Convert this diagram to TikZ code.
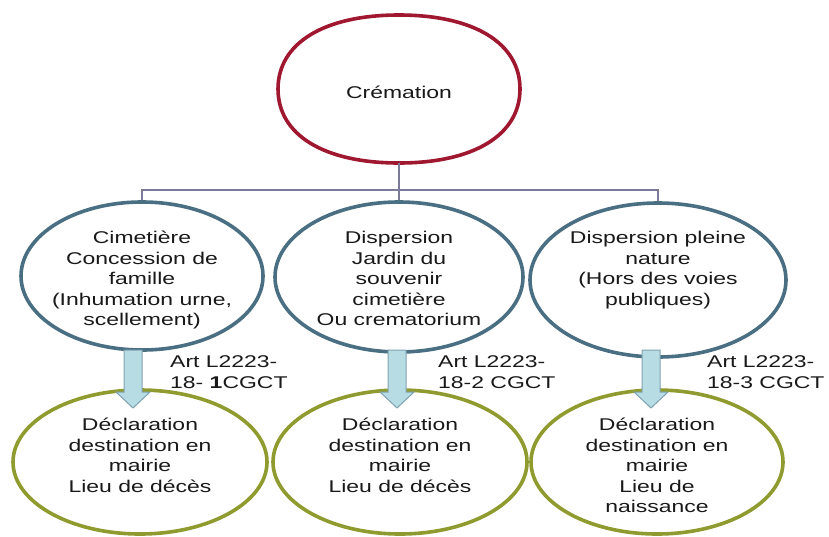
\documentclass[tikz,border=0pt]{standalone}
\usepackage{fontspec}
\setmainfont{Liberation Sans}[FakeStretch=1.35]
\usetikzlibrary{shapes.geometric}
\definecolor{cred}{HTML}{A01830}
\definecolor{cblue}{HTML}{4B6F82}
\definecolor{colive}{HTML}{8F9B2F}
\definecolor{cline}{HTML}{7B7B99}
\definecolor{afill}{HTML}{B8DCE4}
\definecolor{aline}{HTML}{7FA2B0}
\tikzset{
  ell/.style={ellipse, line width=3.6pt, inner sep=0pt, fill=white},
  txt/.style={font=\fontsize{17}{20.5}\selectfont, align=center, inner sep=0pt, text=black!90},
  arttxt/.style={font=\fontsize{17}{20.5}\selectfont, align=left, inner sep=0pt, anchor=north west, text=black!90},
  conn/.style={draw=cline, line width=1.3pt},
  blockarrow/.style={fill=afill, draw=aline, line width=1pt, line join=miter}
}
\begin{document}
\begin{tikzpicture}[x=1pt,y=-1pt]
\useasboundingbox (0,0) rectangle (829,536);
% top (slightly squarish ellipse outline)
\node[ellipse, inner sep=0pt, minimum width=242pt, minimum height=148pt] (top) at (399,89) {};
\draw[line width=3.6pt, draw=cred, fill=white]
  (278,89) .. controls (278,43.1) and (324,15) .. (399,15)
  .. controls (474,15) and (520,43.1) .. (520,89)
  .. controls (520,134.9) and (474,163) .. (399,163)
  .. controls (324,163) and (278,134.9) .. (278,89) -- cycle;
\node[txt, anchor=base] (ttop) at (399,98) {Crémation};
% middle
\node[ell, draw=cblue, minimum width=242pt, minimum height=148pt] (m1) at (142,276) {};
\node[ell, draw=cblue, minimum width=248pt, minimum height=150pt] (m2) at (399,277) {};
\node[ell, draw=cblue, minimum width=256pt, minimum height=154pt] (m3) at (658,280) {};
\node[txt, anchor=north] (tm1) at (142,231) {Cimetière\\Concession de\\famille\\(Inhumation urne,\\scellement)};
\node[txt, anchor=north] (tm2) at (399,231) {Dispersion\\Jardin du\\souvenir\\cimetière\\Ou crematorium};
\node[txt, anchor=north] (tm3) at (658,231) {Dispersion pleine\\nature\\(Hors des voies\\publiques)};
% bottom
\node[ell, draw=colive, minimum width=254pt, minimum height=144pt] (b1) at (140,462) {};
\node[ell, draw=colive, minimum width=254pt, minimum height=144pt] (b2) at (400,462) {};
\node[ell, draw=colive, minimum width=252pt, minimum height=144pt] (b3) at (657,462) {};
\node[txt, anchor=north] (tb1) at (140,418) {Déclaration\\destination en\\mairie\\Lieu de décès};
\node[txt, anchor=north] (tb2) at (400,418) {Déclaration\\destination en\\mairie\\Lieu de décès};
\node[txt, anchor=north] (tb3) at (657,418) {Déclaration\\destination en\\mairie\\Lieu de\\naissance};
% connectors
\coordinate (bus) at (399,190);
\draw[conn] (top.south) -- (bus);
\draw[conn] (bus) -| (m1.north);
\draw[conn] (bus) -| (m3.north);
\draw[conn] (bus) -- (m2.north);
% block arrows
\foreach \n/\x in {a1/133, a2/397, a3/651}{
  \coordinate (\n) at (\x,350);
  \draw[blockarrow] (\n) ++(-9,0) -- ++(18,0) -- ++(0,42) -- ++(8,0) -- ++(-17,16) -- ++(-17,-16) -- ++(8,0) -- cycle;
}
% article labels
\node[arttxt] (art1) at (170,355.5) {Art L2223-\\18- \textbf{1}CGCT};
\node[arttxt] (art2) at (438,355.5) {Art L2223-\\18-2 CGCT};
\node[arttxt] (art3) at (707,355.5) {Art L2223-\\18-3 CGCT};
\end{tikzpicture}
\end{document}
